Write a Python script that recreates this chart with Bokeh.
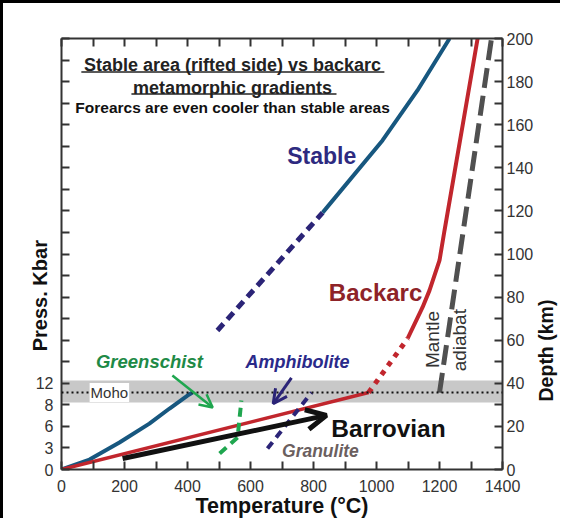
import math
from bokeh.plotting import figure
from bokeh.layouts import row
from bokeh.models import (Range1d, LinearAxis, FixedTicker, Label, Arrow, OpenHead,
                          BoxAnnotation, Span)
from bokeh.embed import file_html
from bokeh.resources import INLINE

# ---------------- data (temperature in deg C, depth in km) ----------------
stable_low_T = [0, 89, 184, 279, 343, 400, 416]
stable_low_D = [0, 4.6, 12.5, 21.3, 28.3, 34.3, 35.7]
stable_dash_T = [495, 829]
stable_dash_D = [64.5, 119.2]
stable_high_T = [829, 1019, 1130, 1232]
stable_high_D = [119.2, 152.7, 175.9, 200]

backarc_low_T = [0, 975]
backarc_low_D = [0, 35.7]
backarc_dot_T = [975, 1099]
backarc_dot_D = [35.7, 60.8]
backarc_high_T = [1099, 1146, 1168, 1200, 1216, 1321]
backarc_high_D = [60.8, 75.2, 83, 97, 111, 200]

mantle_T = [1200, 1365]
mantle_D = [35.7, 200]

granulite_T = [654, 794]
granulite_D = [9.7, 35.7]
greenschist_T = [502, 559, 571]
greenschist_D = [7.4, 14.8, 32]

barrovian_arrow = [194, 5.1, 841, 25.1]
greenschist_arrow = [352, 43.6, 480, 28.8]
amphibolite_arrow = [730, 42.5, 672, 30.5]

moho_band = [31.1, 41.3]
moho_depth = 35.7

temp_ticks = [0, 200, 400, 600, 800, 1000, 1200, 1400]
temp_minor = [100, 300, 500, 700, 900, 1100, 1300]
press_tick_depths = [0, 10, 20, 30, 40]
press_tick_labels = ["0", "3", "6", "8", "12"]
press_minor_depths = list(range(50, 201, 10))
depth_ticks = [0, 20, 40, 60, 80, 100, 120, 140, 160, 180, 200]
depth_minor = [10, 30, 50, 70, 90, 110, 130, 150, 170, 190]

FONT = "Liberation Sans"
AX = "#333333"
NB = "\u00a0"
H = 518
MB_TOP, MB_BOTTOM = 35, 52

p = figure(width=535, height=H, x_range=Range1d(0, 1400), y_range=Range1d(0, 200),
           output_backend="svg", toolbar_location=None,
           min_border_left=58, min_border_right=36, min_border_top=MB_TOP,
           min_border_bottom=MB_BOTTOM)
p.grid.visible = False
p.outline_line_color = None
p.styles = {"border-top": "3px solid black", "border-left": "3px solid black"}


def style_axis(ax):
    ax.axis_line_width = 2
    ax.axis_line_color = AX
    ax.major_tick_in = 8
    ax.major_tick_out = 0
    ax.minor_tick_in = 8
    ax.minor_tick_out = 0
    ax.major_tick_line_width = 2
    ax.minor_tick_line_width = 2
    ax.major_tick_line_color = AX
    ax.minor_tick_line_color = AX
    ax.major_label_text_font = FONT
    ax.major_label_text_font_size = "16px"
    ax.major_label_text_color = AX


def style_title(ax, size):
    ax.axis_label_text_font = FONT
    ax.axis_label_text_font_style = "bold"
    ax.axis_label_text_font_size = size
    ax.axis_label_text_color = "#111111"


# bottom axis
xb = p.xaxis[0]
xb.ticker = FixedTicker(ticks=temp_ticks, minor_ticks=temp_minor)
style_axis(xb)
xb.major_label_standoff = 10
xb.axis_label = "Temperature (°C)"
style_title(xb, "21.5px")
xb.axis_label_standoff = -1

# top axis (ticks only)
xt = LinearAxis(ticker=FixedTicker(ticks=temp_ticks, minor_ticks=temp_minor))
style_axis(xt)
xt.major_label_text_font_size = "1px"
xt.major_label_text_color = None
p.add_layout(xt, "above")

# left axis (pressure labels at depth positions)
yl = p.yaxis[0]
yl.ticker = FixedTicker(ticks=press_tick_depths, minor_ticks=press_minor_depths)
yl.major_label_overrides = {d: s for d, s in zip(press_tick_depths, press_tick_labels)}
style_axis(yl)
yl.major_label_standoff = 8
yl.axis_label = "Press. Kbar" + NB * 15
style_title(yl, "20px")
yl.axis_label_standoff = -18

# right axis (depth)
yr = LinearAxis(ticker=FixedTicker(ticks=depth_ticks, minor_ticks=depth_minor))
style_axis(yr)
yr.major_label_standoff = 4
p.add_layout(yr, "right")

# Moho band and line
p.add_layout(BoxAnnotation(bottom=moho_band[0], top=moho_band[1], fill_color="#c8c8c8",
                           fill_alpha=1, line_color=None, level="underlay"))
p.add_layout(Span(location=moho_depth, dimension="width", line_color="#111111",
                  line_width=2, line_dash="2 3"))

# curves
p.line(stable_low_T, stable_low_D, line_color="#17577f", line_width=4)
p.line(stable_dash_T, stable_dash_D, line_color="#2b2477", line_width=5, line_dash="9 6")
p.line(stable_high_T, stable_high_D, line_color="#17577f", line_width=4)

p.line(backarc_low_T, backarc_low_D, line_color="#c1262d", line_width=3.5)
p.line(backarc_dot_T, backarc_dot_D, line_color="#c1262d", line_width=5, line_dash="5 6")
p.line(backarc_high_T, backarc_high_D, line_color="#c1262d", line_width=4)

p.line(mantle_T, mantle_D, line_color="#505050", line_width=5, line_dash="20 8")

p.line(granulite_T, granulite_D, line_color="#2b2477", line_width=4, line_dash="8 6")
p.line(greenschist_T, greenschist_D, line_color="#1fa64f", line_width=4, line_dash="9 6")


# arrows
def arrow(coords, color, width, size):
    x0, y0, x1, y1 = coords
    p.add_layout(Arrow(end=OpenHead(size=size, line_width=width, line_color=color),
                       x_start=x0, y_start=y0, x_end=x1, y_end=y1,
                       line_color=color, line_width=width))


arrow(barrovian_arrow, "#111111", 5, 20)
arrow(greenschist_arrow, "#1fa64f", 2.5, 13)
arrow(amphibolite_arrow, "#2b2477", 3, 14)


def make_label(text, x, y, size, color, style="bold", angle=0, align="center", bg=None):
    lab = Label(x=x, y=y, text=text, text_font=FONT, text_font_size=size,
                text_font_style=style, text_color=color, text_align=align,
                text_baseline="middle", angle=angle)
    if bg is not None:
        lab.background_fill_color = bg
        lab.padding = 1
    return lab


def label(*args, **kw):
    p.add_layout(make_label(*args, **kw))


# titles
label("Stable area (rifted side) vs backarc", 543, 187.9, "18px", "#222222")
label("metamorphic gradients", 543, 177.2, "18px", "#222222")
label("Forearcs are even cooler than stable areas", 543, 168.0, "15.5px", "#111111")
underline_x0 = [63, 222]
underline_x1 = [1025, 873]
underline_y = [184.4, 174.2]
p.segment(underline_x0, underline_y, underline_x1, underline_y, line_color="#222222",
          line_width=1.5)

# curve labels
label("Stable", 826, 145.7, "23px", "#2e2a80")
label("Backarc", 997, 82.1, "24px", "#8e2328")
label("Greenschist", 279, 50.1, "18.5px", "#1e8a46", style="bold italic")
label("Amphibolite", 749, 50.1, "18px", "#2a2a8a", style="bold italic")
label("Granulite", 822, 8.4, "17.5px", "#6b5f5f", style="bold italic")
label("Barrovian", 1038, 19.0, "24.5px", "#111111")
label("Moho", 152, 35.7, "15px", "#333333", style="normal", bg="white")
label("Mantle", 1178, 60.3, "19px", "#333333", style="normal", angle=math.pi / 2)
label("adiabat", 1264, 60.0, "19px", "#333333", style="normal", angle=math.pi / 2)

# narrow strip to the right carrying the depth-axis title (same vertical scale)
p2 = figure(width=25, height=H, x_range=Range1d(0, 25), y_range=p.y_range,
            x_axis_type=None, y_axis_type=None, output_backend="svg",
            toolbar_location=None, min_border_left=0, min_border_right=0,
            min_border_top=MB_TOP, min_border_bottom=MB_BOTTOM)
p2.outline_line_color = None
p2.styles = {"border-top": "3px solid black"}
p2.add_layout(Label(x=10, y=55.2, text="Depth (km)", text_font=FONT,
                    text_font_size="19.5px", text_font_style="bold", text_color="#111111",
                    text_align="center", text_baseline="middle", angle=math.pi / 2))

layout = row(p, p2)
open("out.html", "w").write(file_html(layout, INLINE))
